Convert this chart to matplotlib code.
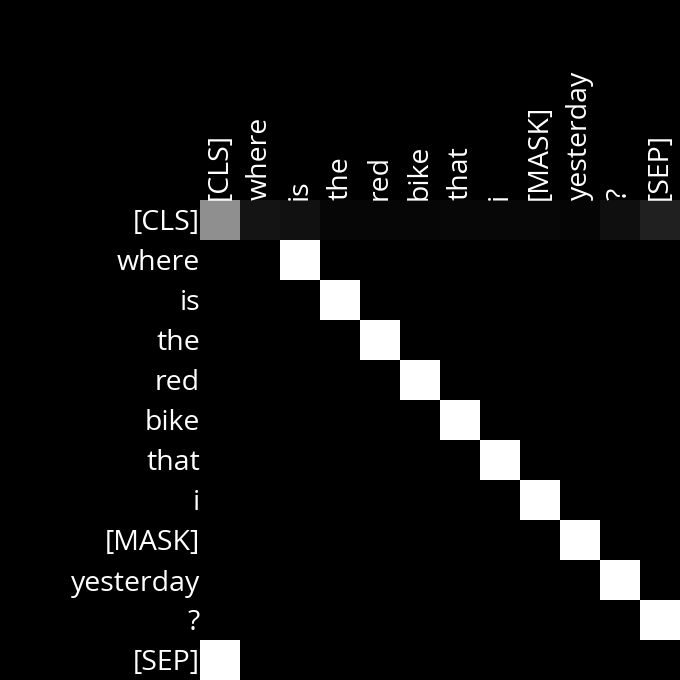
import matplotlib
matplotlib.use("Agg")
import matplotlib.pyplot as plt
import numpy as np

tokens = ["[CLS]", "where", "is", "the", "red", "bike", "that", "i",
          "[MASK]", "yesterday", "?", "[SEP]"]
cls_row = [0.56, 0.08, 0.07, 0.025, 0.025, 0.025, 0.03, 0.03, 0.028, 0.02, 0.06, 0.13]
# each middle token attends to the next token; [SEP] attends to [CLS]
target_index = [1, 2, 3, 4, 5, 6, 7, 8, 9, 10, 11, 0]

n = len(tokens)
att = np.zeros((n, n))
att[0, :] = cls_row
for r in range(1, n):
    att[r, target_index[r]] = 1.0

plt.rcParams['font.family'] = ['Open Sans', 'DejaVu Sans']
fig = plt.figure(figsize=(6.8, 6.8), dpi=100, facecolor='black')
ax = fig.add_axes([200/680, 0, 480/680, 480/680])
ax.set_facecolor('black')
ax.imshow(att, cmap='gray', vmin=0, vmax=1, aspect='auto', interpolation='nearest')
ax.set_xticks(range(n))
ax.set_yticks(range(n))
ax.set_xticklabels(tokens, rotation=90, color='white', fontsize=20.5)
ax.set_yticklabels(tokens, color='white', fontsize=20.5)
ax.xaxis.tick_top()
ax.tick_params(length=0, pad=0)
for s in ax.spines.values():
    s.set_visible(False)
fig.savefig("out.png", facecolor='black', dpi=100)
